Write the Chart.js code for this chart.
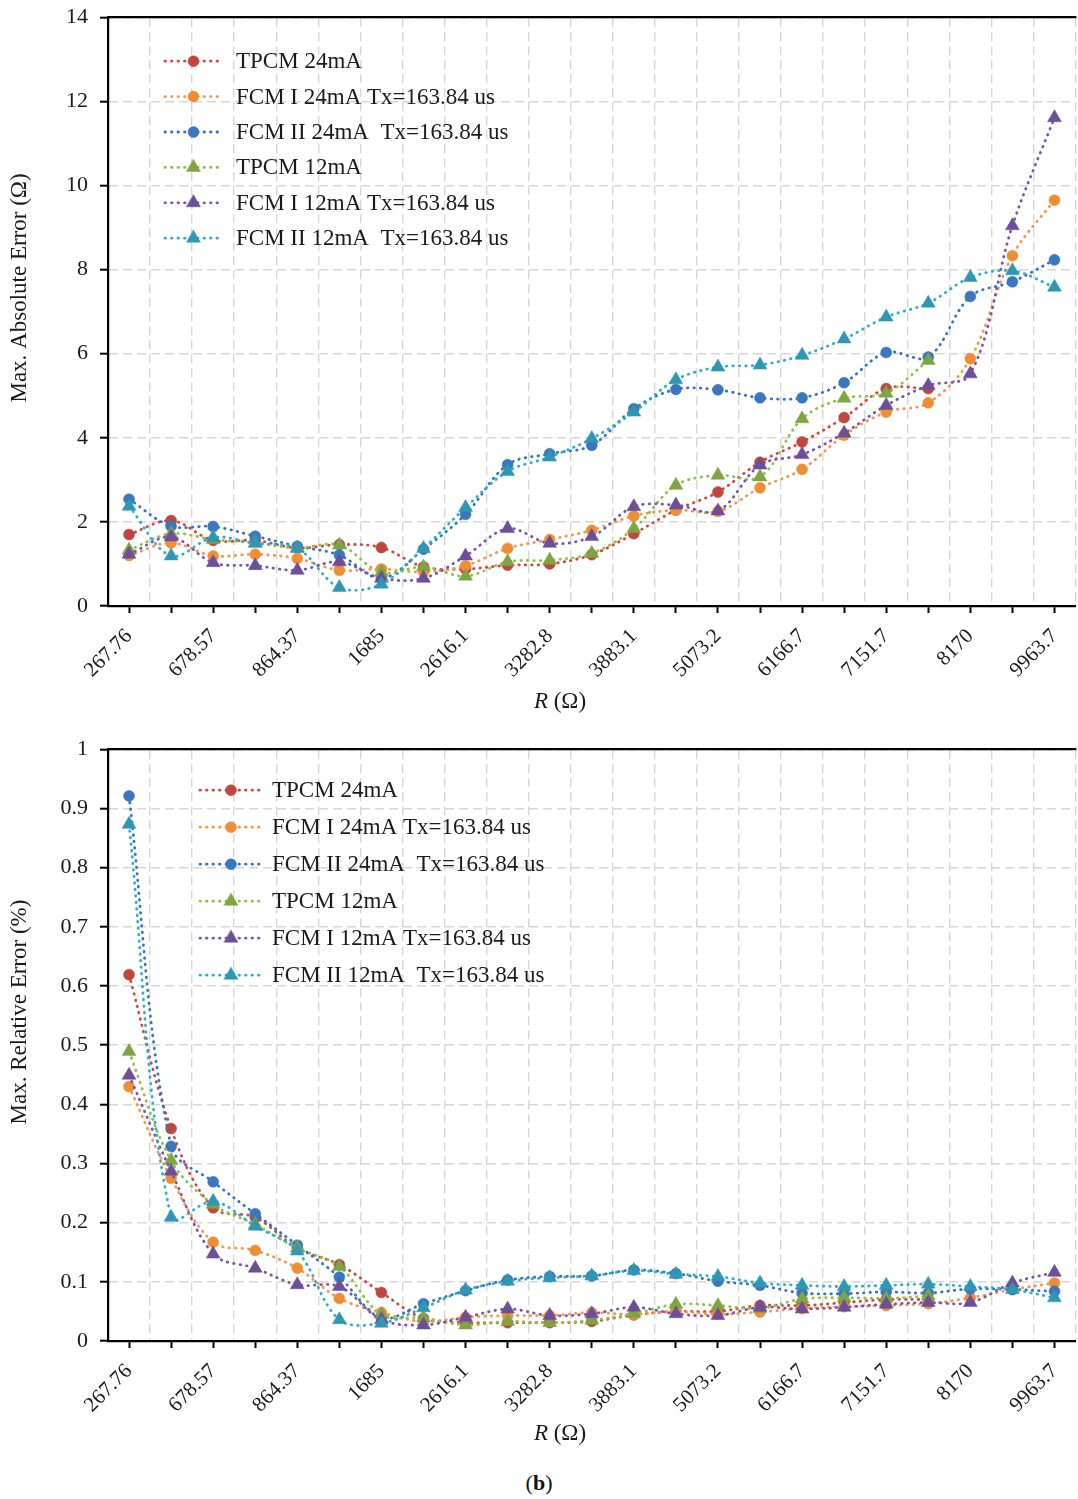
<!DOCTYPE html>
<html>
<head>
<meta charset="utf-8">
<script src="https://cdn.jsdelivr.net/npm/chart.js@4.4.1/dist/chart.umd.min.js"></script>
<style>
    html, body { margin: 0; padding: 0; background: #fff; overflow: hidden; }
    #wrap { position: relative; width: 1078px; height: 1499px; overflow: hidden; }
    canvas { position: absolute; left: 0; }
    #c1 { top: -8px; }
    #c2 { top: 724px; }
    #cap { position: absolute; top: 1470px; left: 0; width: 1078px; text-align: center;
           font: 22px "Liberation Serif", serif; color: #111; }
</style>
</head>
<body>
<div id="wrap">
    <canvas id="c1" width="1084" height="732"></canvas>
    <canvas id="c2" width="1084" height="733"></canvas>
    <div id="cap">(<b>b</b>)</div>
</div>
<script>
// R values; only every other one is printed on the axis
const labels = ['267.76', '', '678.57', '', '864.37', '', '1685', '', '2616.1', '', '3282.8', '',
    '3883.1', '', '5073.2', '', '6166.7', '', '7151.7', '', '8170', '', '9963.7'];

const seriesNames = ['TPCM 24mA', 'FCM I 24mA Tx=163.84 us', 'FCM II 24mA  Tx=163.84 us',
    'TPCM 12mA', 'FCM I 12mA Tx=163.84 us', 'FCM II 12mA  Tx=163.84 us'];

// (a) max. absolute error, ohm
const absTpcm24 = [1.70, 2.03, 1.56, 1.56, 1.38, 1.46, 1.39, 0.93, 0.88, 0.97, 1.00, 1.22, 1.72, 2.28, 2.71, 3.42, 3.90, 4.48, 5.17, 5.17];
const absFcm1_24 = [1.20, 1.50, 1.19, 1.23, 1.13, 0.85, 0.88, 0.81, 0.96, 1.37, 1.58, 1.80, 2.14, 2.28, 2.25, 2.81, 3.25, 4.06, 4.61, 4.83, 5.88, 8.33, 9.65];
const absFcm2_24 = [2.54, 1.90, 1.89, 1.66, 1.42, 1.21, 0.66, 1.35, 2.18, 3.36, 3.62, 3.82, 4.69, 5.15, 5.14, 4.95, 4.95, 5.31, 6.03, 5.92, 7.36, 7.71, 8.23];
const absTpcm12 = [1.33, 1.72, 1.58, 1.50, 1.38, 1.45, 0.80, 0.93, 0.71, 1.05, 1.09, 1.25, 1.84, 2.87, 3.11, 3.07, 4.45, 4.94, 5.06, 5.84];
const absFcm1_12 = [1.23, 1.64, 1.03, 0.96, 0.85, 1.05, 0.66, 0.66, 1.19, 1.84, 1.49, 1.65, 2.36, 2.40, 2.26, 3.35, 3.60, 4.11, 4.77, 5.24, 5.52, 9.04, 11.61];
const absFcm2_12 = [2.37, 1.19, 1.63, 1.49, 1.37, 0.44, 0.52, 1.37, 2.34, 3.20, 3.54, 3.98, 4.61, 5.38, 5.68, 5.73, 5.96, 6.35, 6.87, 7.20, 7.81, 7.97, 7.58];

// (b) max. relative error, %
const relTpcm24 = [0.619, 0.359, 0.225, 0.209, 0.157, 0.129, 0.082, 0.038, 0.031, 0.031, 0.031, 0.033, 0.044, 0.050, 0.050, 0.060, 0.060, 0.065, 0.070, 0.070];
const relFcm1_24 = [0.430, 0.275, 0.167, 0.153, 0.123, 0.072, 0.048, 0.033, 0.040, 0.043, 0.043, 0.048, 0.045, 0.050, 0.045, 0.049, 0.055, 0.058, 0.060, 0.063, 0.073, 0.087, 0.098];
const relFcm2_24 = [0.921, 0.329, 0.269, 0.215, 0.162, 0.108, 0.039, 0.063, 0.085, 0.103, 0.109, 0.110, 0.120, 0.114, 0.101, 0.094, 0.081, 0.080, 0.083, 0.081, 0.088, 0.087, 0.084];
const relTpcm12 = [0.489, 0.305, 0.231, 0.197, 0.157, 0.126, 0.045, 0.039, 0.027, 0.033, 0.031, 0.035, 0.046, 0.062, 0.060, 0.055, 0.071, 0.073, 0.072, 0.076];
const relFcm1_12 = [0.449, 0.287, 0.147, 0.123, 0.095, 0.092, 0.036, 0.027, 0.040, 0.054, 0.043, 0.046, 0.057, 0.046, 0.043, 0.057, 0.054, 0.057, 0.062, 0.065, 0.065, 0.098, 0.116];
const relFcm2_12 = [0.873, 0.209, 0.236, 0.194, 0.152, 0.036, 0.030, 0.056, 0.086, 0.101, 0.107, 0.110, 0.119, 0.113, 0.109, 0.098, 0.094, 0.092, 0.094, 0.096, 0.092, 0.087, 0.073];

const lineColors = ['#d6443f', '#f79646', '#3274c2', '#8fc24a', '#7a56a8', '#2aafd0'];
const markColors = ['#c0473f', '#ee8f35', '#3b77bf', '#7ea443', '#6d4e98', '#3097b2'];
const markStyles = ['circle', 'circle', 'circle', 'triangle', 'triangle', 'triangle'];

const serif = '"Liberation Serif", "Times New Roman", serif';
const textColor = '#1a1a1a';

function makeDatasets(series) {
    return series.map((values, i) => ({
        label: seriesNames[i],
        data: values,
        order: 6 - i,
        borderColor: lineColors[i],
        backgroundColor: markColors[i],
        pointBackgroundColor: markColors[i],
        pointBorderColor: markColors[i],
        pointBorderWidth: 0.5,
        pointStyle: markStyles[i],
        pointRadius: markStyles[i] === 'circle' ? 5.5 : 8,
        borderWidth: 2.8,
        borderDash: [0.5, 6],
        borderCapStyle: 'round',
        tension: 0.35,
        fill: false
    }));
}

// draws axis titles and the legend inside the plot
const decor = {
    id: 'decor',
    afterDraw(chart, args, o) {
        const ctx = chart.ctx;
        const a = chart.chartArea;
        ctx.save();
        ctx.fillStyle = textColor;
        ctx.textBaseline = 'middle';

        // y title
        ctx.font = '23px ' + serif;
        ctx.save();
        ctx.translate(o.yTitleX, o.yTitleY);
        ctx.rotate(-Math.PI / 2);
        ctx.textAlign = 'center';
        ctx.fillText(o.yTitle, 0, 0);
        ctx.restore();

        // x title "R (Ω)" with italic R
        ctx.textAlign = 'left';
        ctx.font = 'italic 23px ' + serif;
        const wR = ctx.measureText('R').width;
        ctx.font = '23px ' + serif;
        const wRest = ctx.measureText(' (Ω)').width;
        let x = o.xTitleX - (wR + wRest) / 2;
        ctx.font = 'italic 23px ' + serif;
        ctx.fillText('R', x, o.xTitleY);
        ctx.font = '23px ' + serif;
        ctx.fillText(' (Ω)', x + wR, o.xTitleY);

        // legend
        chart.data.datasets.forEach((d, i) => {
            const y = a.top + o.legTop + i * o.legGap;
            const x0 = a.left + o.legX0, x1 = a.left + o.legX1;
            ctx.save();
            ctx.strokeStyle = d.borderColor;
            ctx.lineWidth = d.borderWidth;
            ctx.lineCap = 'round';
            ctx.setLineDash(d.borderDash);
            ctx.beginPath();
            ctx.moveTo(x0, y);
            ctx.lineTo(x1, y);
            ctx.stroke();
            ctx.setLineDash([]);
            ctx.fillStyle = d.pointBackgroundColor;
            ctx.strokeStyle = d.pointBorderColor;
            ctx.lineWidth = d.pointBorderWidth;
            Chart.helpers.drawPoint(ctx, {
                pointStyle: d.pointStyle, rotation: 0,
                radius: d.pointRadius, borderWidth: d.pointBorderWidth
            }, (x0 + x1) / 2, y);
            ctx.restore();
            ctx.font = '23px ' + serif;
            ctx.fillStyle = textColor;
            ctx.fillText(d.label, a.left + o.legText, y + 1);
        });
        ctx.restore();
    }
};

function drawChart(id, series, yMax, yStep, padTop, axisHeight, decorOpts) {
    const gridColor = '#d6d6d6';
    new Chart(document.getElementById(id), {
        type: 'line',
        data: { labels: labels, datasets: makeDatasets(series) },
        plugins: [decor],
        options: {
            responsive: false,
            animation: false,
            events: [],
            layout: { padding: { top: padTop, right: 2, left: 0, bottom: 0 } },
            plugins: {
                legend: { display: false },
                tooltip: { enabled: false },
                decor: decorOpts
            },
            scales: {
                x: {
                    type: 'category',
                    position: 'bottom',
                    offset: true,
                    afterFit: s => { s.height = axisHeight; },
                    grid: {
                        offset: false,
                        drawOnChartArea: false,
                        drawTicks: true,
                        tickLength: 7,
                        tickColor: '#000',
                        tickWidth: 2
                    },
                    border: { display: true, color: '#000', width: 2.2, z: 1 },
                    ticks: {
                        autoSkip: false,
                        minRotation: 45,
                        maxRotation: 45,
                        padding: 11,
                        color: textColor,
                        font: { family: serif, size: 21 }
                    }
                },
                x2: {
                    type: 'category',
                    position: 'top',
                    offset: true,
                    afterFit: s => { s.height = 0; },
                    grid: {
                        offset: true,
                        drawOnChartArea: true,
                        drawTicks: false,
                        color: gridColor,
                        lineWidth: 1.4
                    },
                    border: { display: true, color: '#000', width: 2.2, dash: [9, 5], z: 1 },
                    ticks: { display: false }
                },
                y: {
                    min: 0,
                    max: yMax,
                    afterFit: s => { s.width = 108; },
                    grid: {
                        color: gridColor,
                        lineWidth: 1.4,
                        drawTicks: true,
                        tickLength: 8,
                        tickColor: '#000',
                        tickWidth: 2,
                        tickBorderDash: []
                    },
                    border: { display: true, color: '#000', width: 2.2, dash: [9, 5], z: 1 },
                    ticks: {
                        stepSize: yStep,
                        padding: 12,
                        color: textColor,
                        font: { family: serif, size: 22 },
                        callback: v => String(Math.round(v * 100) / 100)
                    }
                }
            }
        }
    });
}

drawChart('c1', [absTpcm24, absFcm1_24, absFcm2_24, absTpcm12, absFcm1_12, absFcm2_12],
    14, 2, 8, 118, {
        yTitle: 'Max. Absolute Error (Ω)', yTitleX: 20, yTitleY: 296,
        xTitleX: 560, xTitleY: 710,
        legTop: 44, legGap: 35.4, legX0: 57, legX1: 114, legText: 128
    });

drawChart('c2', [relTpcm24, relFcm1_24, relFcm2_24, relTpcm12, relFcm1_12, relFcm2_12],
    1, 0.1, 24, 116, {
        yTitle: 'Max. Relative Error (%)', yTitleX: 20, yTitleY: 288,
        xTitleX: 560, xTitleY: 710,
        legTop: 41, legGap: 37, legX0: 92, legX1: 154, legText: 164
    });
</script>
</body>
</html>
